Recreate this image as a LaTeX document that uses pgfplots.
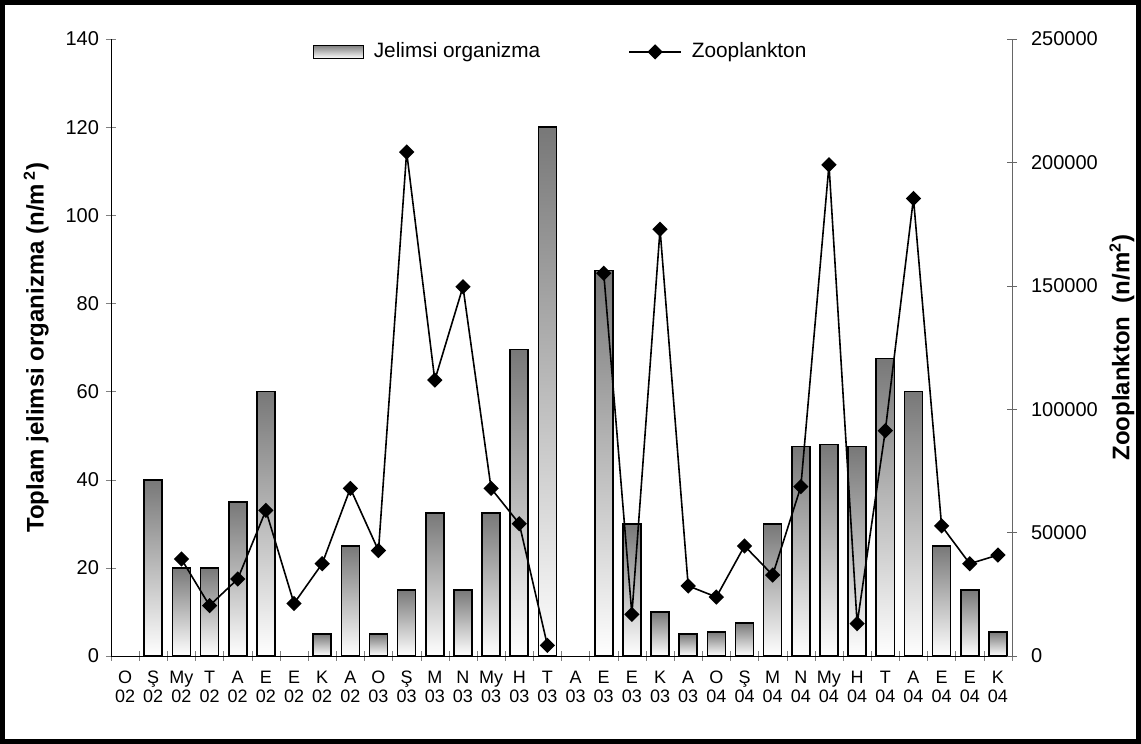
\documentclass[border=0pt]{standalone}
\usepackage{fontspec}
\setmainfont{Liberation Sans}
\usepackage{pgfplots}
\pgfplotsset{compat=1.18}
\usepackage{pgfplotstable}

% gelatinous organisms, left axis (n/m2)
\pgfplotstableread{
i val
1 40
2 20
3 20
4 35
5 60
7 5
8 25
9 5
10 15
11 32.5
12 15
13 32.5
14 69.5
15 120
17 87.5
18 30
19 10
20 5
21 5.5
22 7.5
23 30
24 47.5
25 48
26 47.5
27 67.5
28 60
29 25
30 15
31 5.5
}\jelimsi

% zooplankton, right axis (n/m2)
\pgfplotstableread{
i zoo
2 39300
3 20400
4 31200
5 59000
6 21300
7 37400
8 67900
9 42700
10 204200
11 111800
12 149600
13 67900
14 53600
15 4300
16 nan
17 155100
18 16900
19 172900
20 28400
21 23900
22 44600
23 32800
24 68600
25 199000
26 13100
27 91300
28 185400
29 52700
30 37400
31 40900
}\zoo

\pgfplotsset{
  base/.style={
    scale only axis, width=450.5pt, height=308.5pt,
    xmin=-0.5, xmax=31.5,
    tick align=center, major tick length=5pt,
    tick label style={font=\fontsize{10}{12}\selectfont},
    /pgf/number format/assume math mode=true,
  },
  barlegend/.style={legend image code/.code={\draw[draw=black, line width=0.6pt,
    top color=black!50, bottom color=white] (0pt,-3.25pt) rectangle (25pt,3.25pt);}},
  linelegend/.style={legend image code/.code={\draw[mark repeat=2, mark phase=2, ##1]
    plot coordinates {(0pt,0pt) (13pt,0pt) (26pt,0pt)};}},
}

\begin{document}
\begin{tikzpicture}
\begin{axis}[base,
  axis x line*=bottom, axis y line*=left,
  ymin=0, ymax=140, ytick={0,20,...,140},
  xtick={-0.5,0.5,...,31.5}, xticklabels={},
  extra x ticks={0,...,31},
  extra x tick labels={{O\\02},{Ş\\02},{My\\02},{T\\02},{A\\02},{E\\02},{E\\02},{K\\02},{A\\02},
    {O\\03},{Ş\\03},{M\\03},{N\\03},{My\\03},{H\\03},{T\\03},{A\\03},{E\\03},{E\\03},{K\\03},{A\\03},
    {O\\04},{Ş\\04},{M\\04},{N\\04},{My\\04},{H\\04},{T\\04},{A\\04},{E\\04},{E\\04},{K\\04}},
  extra x tick style={major tick length=0pt,
    tick label style={font=\fontsize{9}{9.5}\selectfont, align=center, yshift=-4pt}},
  ylabel={Toplam jelimsi organizma (n/m\hspace{0.15em}\textsuperscript{2})},
  ylabel style={font=\fontsize{12}{14}\selectfont\bfseries,
    at={(axis description cs:-0.083,0.5)}, anchor=center},
  legend columns=-1,
  legend style={draw=none, fill=none, at={(0.5,0.979)}, anchor=center,
    font=\fontsize{10.4}{12}\selectfont,
    /tikz/every odd column/.append style={column sep=3pt},
    /tikz/every even column/.append style={column sep=42pt}},
]
% one plot per bar so that each bar gets its own shading
\pgfplotsinvokeforeach{0,...,28}{
  \addplot[ybar, bar width=9pt, bar shift=0pt, draw=black, line width=0.8pt,
    top color=black!53, bottom color=white, forget plot,
    x filter/.expression={\coordindex==#1 ? x : nan}]
    table[x=i, y=val]{\jelimsi};
}
\addlegendimage{barlegend}
\addlegendentry{Jelimsi organizma}
\addlegendimage{black, line width=0.8pt, mark=square*, mark size=2.3pt,
  mark options={rotate=45}, linelegend}
\addlegendentry{Zooplankton}
\end{axis}

\begin{axis}[base,
  axis x line=none, axis y line*=right,
  ymin=0, ymax=250000, ytick={0,50000,100000,150000,200000,250000},
  scaled y ticks=false,
  yticklabel style={xshift=3.5pt, /pgf/number format/fixed, /pgf/number format/1000 sep={}},
  y axis line style={black!60}, ytick style={black!60},
  ylabel={Zooplankton\ \ (n/m\textsuperscript{2})},
  ylabel style={font=\fontsize{12}{14}\selectfont\bfseries,
    at={(axis description cs:1.122,0.5)}, anchor=center},
  unbounded coords=jump,
]
\addplot[black, line width=0.8pt, mark=square*, mark size=2.3pt, mark options={rotate=45}]
  table[x=i, y=zoo]{\zoo};
\end{axis}

\draw[line width=2.5pt] (-54.25pt,-42.75pt) rectangle (513.75pt,326.75pt);
\end{tikzpicture}
\end{document}
